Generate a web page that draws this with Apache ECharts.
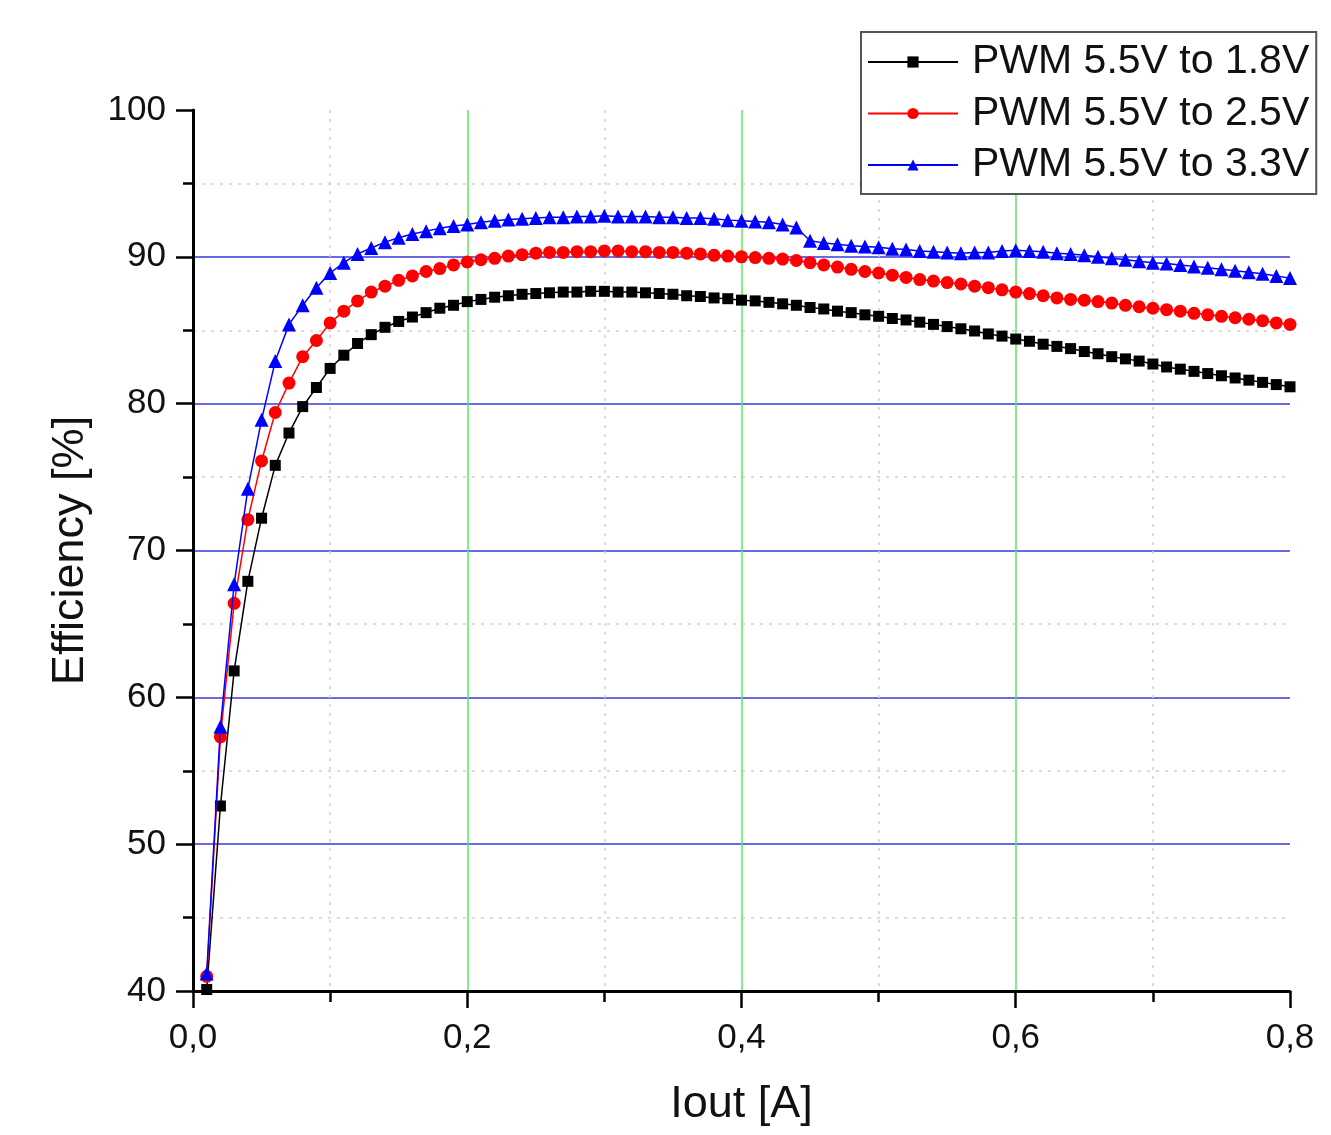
<!DOCTYPE html>
<html>
<head>
<meta charset="utf-8">
<script src="https://cdn.jsdelivr.net/npm/echarts@6/dist/echarts.min.js"></script>
<style>
html,body{margin:0;padding:0;background:#fff;}
#chart{width:1331px;height:1135px;}
</style>
</head>
<body>
<div id="chart"></div>
<script>
// Output current (A)
var iout = [0.01,0.02,0.03,0.04,0.05,0.06,0.07,0.08,0.09,0.10,
            0.11,0.12,0.13,0.14,0.15,0.16,0.17,0.18,0.19,0.20,
            0.21,0.22,0.23,0.24,0.25,0.26,0.27,0.28,0.29,0.30,
            0.31,0.32,0.33,0.34,0.35,0.36,0.37,0.38,0.39,0.40,
            0.41,0.42,0.43,0.44,0.45,0.46,0.47,0.48,0.49,0.50,
            0.51,0.52,0.53,0.54,0.55,0.56,0.57,0.58,0.59,0.60,
            0.61,0.62,0.63,0.64,0.65,0.66,0.67,0.68,0.69,0.70,
            0.71,0.72,0.73,0.74,0.75,0.76,0.77,0.78,0.79,0.80];

// Efficiency (%) PWM 5.5V to 1.8V
var eff18 = [40.1,52.6,61.8,67.9,72.2,75.8,78.0,79.8,81.1,82.4,
             83.3,84.1,84.7,85.2,85.6,85.9,86.2,86.5,86.7,86.95,
             87.1,87.25,87.35,87.45,87.5,87.55,87.6,87.6,87.65,87.65,
             87.6,87.6,87.55,87.5,87.45,87.35,87.3,87.2,87.15,87.05,
             87.0,86.9,86.8,86.7,86.55,86.45,86.3,86.2,86.05,85.95,
             85.8,85.7,85.55,85.4,85.25,85.1,84.95,84.75,84.6,84.4,
             84.25,84.05,83.9,83.75,83.55,83.4,83.2,83.05,82.9,82.7,
             82.5,82.35,82.2,82.05,81.9,81.75,81.6,81.45,81.3,81.15];

// Efficiency (%) PWM 5.5V to 2.5V
var eff25 = [41.0,57.3,66.4,72.1,76.1,79.4,81.4,83.2,84.3,85.5,
             86.3,87.0,87.6,88.0,88.4,88.7,89.0,89.2,89.45,89.65,
             89.8,89.9,90.05,90.15,90.25,90.3,90.3,90.35,90.35,90.4,
             90.4,90.35,90.35,90.3,90.3,90.25,90.2,90.1,90.05,90.0,
             89.95,89.9,89.85,89.75,89.6,89.45,89.3,89.15,89.0,88.9,
             88.75,88.6,88.45,88.35,88.25,88.15,88.0,87.9,87.75,87.6,
             87.5,87.35,87.2,87.1,87.05,86.95,86.85,86.7,86.6,86.5,
             86.4,86.3,86.15,86.05,85.95,85.85,85.75,85.65,85.5,85.4];

// Efficiency (%) PWM 5.5V to 3.3V
var eff33 = [41.2,58.0,67.7,74.2,78.9,82.9,85.4,86.7,87.9,88.9,
             89.6,90.2,90.6,91.0,91.3,91.55,91.75,91.95,92.1,92.2,
             92.35,92.45,92.55,92.6,92.65,92.7,92.7,92.75,92.75,92.8,
             92.75,92.75,92.75,92.7,92.7,92.65,92.65,92.6,92.5,92.45,
             92.4,92.35,92.2,92.0,91.1,90.95,90.85,90.75,90.7,90.65,
             90.55,90.5,90.4,90.35,90.3,90.25,90.3,90.3,90.4,90.45,
             90.4,90.35,90.25,90.2,90.1,90.0,89.9,89.8,89.7,89.6,
             89.55,89.45,89.35,89.25,89.15,89.05,88.95,88.85,88.7,88.55];

var seriesNames = ['PWM 5.5V to 1.8V', 'PWM 5.5V to 2.5V', 'PWM 5.5V to 3.3V'];
var xTickValues = [0, 0.2, 0.4, 0.6, 0.8];
var xTickLabels = ['0,0', '0,2', '0,4', '0,6', '0,8'];
var yTickValues = [40, 50, 60, 70, 80, 90, 100];
var yTickLabels = ['40', '50', '60', '70', '80', '90', '100'];

function pairs(xs, ys) { return xs.map(function (x, i) { return [x, ys[i]]; }); }
function lookup(vals, labels, v) {
  for (var i = 0; i < vals.length; i++) { if (Math.abs(vals[i] - v) < 1e-6) return labels[i]; }
  return '';
}

var FONT = "'Liberation Sans', Arial, sans-serif";
var chart = echarts.init(document.getElementById('chart'), null, {renderer: 'canvas'});

var option = {
  backgroundColor: '#ffffff',
  animation: false,
  grid: {left: 193, right: 41, top: 110, bottom: 144, containLabel: false},
  legend: {
    left: 861, top: 32,
    orient: 'vertical',
    backgroundColor: '#ffffff',
    borderColor: '#555555', borderWidth: 2, borderRadius: 0,
    padding: [9, 7, 8, 6],
    itemWidth: 90, itemHeight: 14, itemGap: 9.5,
    textStyle: {fontFamily: FONT, fontSize: 41, color: '#111', lineHeight: 42, padding: [0, 0, 0, 9]},
    data: seriesNames
  },
  xAxis: {
    type: 'value', min: 0, max: 0.8, interval: 0.2,
    name: 'Iout [A]', nameLocation: 'middle', nameGap: 91,
    nameTextStyle: {fontFamily: FONT, fontSize: 45, color: '#111'},
    axisLine: {show: true, onZero: false, lineStyle: {color: '#000', width: 3}},
    axisTick: {show: true, length: 17, lineStyle: {color: '#000', width: 2.5}},
    minorTick: {show: true, splitNumber: 2, length: 11, lineStyle: {color: '#000', width: 2.5}},
    axisLabel: {fontFamily: FONT, fontSize: 35, color: '#111', margin: 30,
      formatter: function (v) { return lookup(xTickValues, xTickLabels, v); }},
    splitLine: {show: true, showMinLine: false, showMaxLine: false,
      lineStyle: {color: '#5ee65e', width: 1.5}},
    minorSplitLine: {show: true, lineStyle: {color: '#d0d0d0', width: 1.5, type: [3, 6]}}
  },
  yAxis: {
    type: 'value', min: 40, max: 100, interval: 10,
    name: 'Efficiency [%]', nameLocation: 'middle', nameGap: 100,
    nameTextStyle: {fontFamily: FONT, fontSize: 45, color: '#111'},
    axisLine: {show: true, onZero: false, lineStyle: {color: '#000', width: 3}},
    axisTick: {show: true, length: 17, lineStyle: {color: '#000', width: 2.5}},
    minorTick: {show: true, splitNumber: 2, length: 10, lineStyle: {color: '#000', width: 2.5}},
    axisLabel: {fontFamily: FONT, fontSize: 35, color: '#111', margin: 27,
      formatter: function (v) { return lookup(yTickValues, yTickLabels, v); }},
    splitLine: {show: true, showMinLine: false, showMaxLine: false,
      lineStyle: {color: '#6a6ae8', width: 2}},
    minorSplitLine: {show: true, lineStyle: {color: '#d0d0d0', width: 1.5, type: [3, 6]}}
  },
  series: [
    {
      name: seriesNames[0], type: 'line', data: pairs(iout, eff18),
      symbol: 'rect', symbolSize: 11, showAllSymbol: true,
      lineStyle: {color: '#000000', width: 1.5},
      itemStyle: {color: '#000000'}, z: 3
    },
    {
      name: seriesNames[1], type: 'line', data: pairs(iout, eff25),
      symbol: 'circle', symbolSize: 13, showAllSymbol: true,
      lineStyle: {color: '#ff0000', width: 1.5},
      itemStyle: {color: '#ff0000'}, z: 4
    },
    {
      name: seriesNames[2], type: 'line', data: pairs(iout, eff33),
      symbol: 'triangle', symbolSize: 14, showAllSymbol: true,
      lineStyle: {color: '#0000ff', width: 1.5},
      itemStyle: {color: '#0000ff'}, z: 5
    }
  ]
};
chart.setOption(option);
</script>
</body>
</html>
